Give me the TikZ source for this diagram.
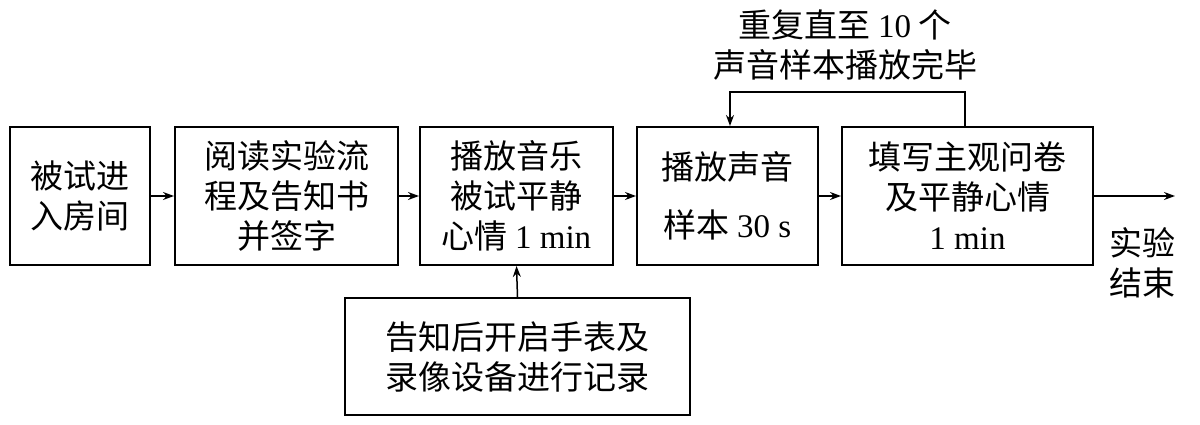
\documentclass[tikz,border=0pt]{standalone}
\usepackage{fontspec}
\newfontfamily\cjk{Noto Sans CJK SC}
\setmainfont{Liberation Serif}
\newcommand{\lt}[1]{{\rmfamily #1}}
\usetikzlibrary{arrows.meta}
\begin{document}
\begin{tikzpicture}[x=1pt,y=-1pt,
  box/.style={draw,line width=2pt,align=center,inner sep=0pt,font=\cjk\fontsize{33}{40}\selectfont},
  lbl/.style={align=center,font=\cjk\fontsize{33}{40}\selectfont},
  arr/.style={line width=1.5pt,-{Stealth[length=11pt,width=8pt]}}]
\useasboundingbox (0,0) rectangle (1200,425);
\node[box,minimum width=140pt,minimum height=138pt] (b1) at (80,196) {被试进\\入房间};
\node[box,minimum width=223pt,minimum height=138pt] (b2) at (286.5,196) {阅读实验流\\程及告知书\\并签字};
\node[box,minimum width=193pt,minimum height=138pt] (b3) at (516.5,196) {播放音乐\\被试平静\\心情 \lt{1 min}};
\node[box,minimum width=181pt,minimum height=138pt] (b4) at (727.5,196) {播放声音\\[18pt]样本 \lt{30 s}};
\node[box,minimum width=251pt,minimum height=138pt] (b5) at (967.5,196) {填写主观问卷\\及平静心情\\\lt{1 min}};
\node[box,minimum width=345pt,minimum height=117pt] (b6) at (517.5,356.5) {告知后开启手表及\\录像设备进行记录};
\node[lbl] (t1) at (845,45) {重复直至 \lt{10} 个\\声音样本播放完毕};
\node[lbl] (t2) at (1142,263) {实验\\结束};
\coordinate (end) at (1175,196);
\coordinate (c1) at (965,92);
\coordinate (c2) at (730,92);
\draw[arr] (b1) -- (b2);
\draw[arr] (b2) -- (b3);
\draw[arr] (b3) -- (b4);
\draw[arr] (b4) -- (b5);
\draw[arr] (b5) -- (end);
\draw[arr] (b6.north) -- (b3.south);
\draw[arr] (b5.north -| c1) -- (c1) -- (c2) -- (b4.north -| c2);
\end{tikzpicture}
\end{document}
